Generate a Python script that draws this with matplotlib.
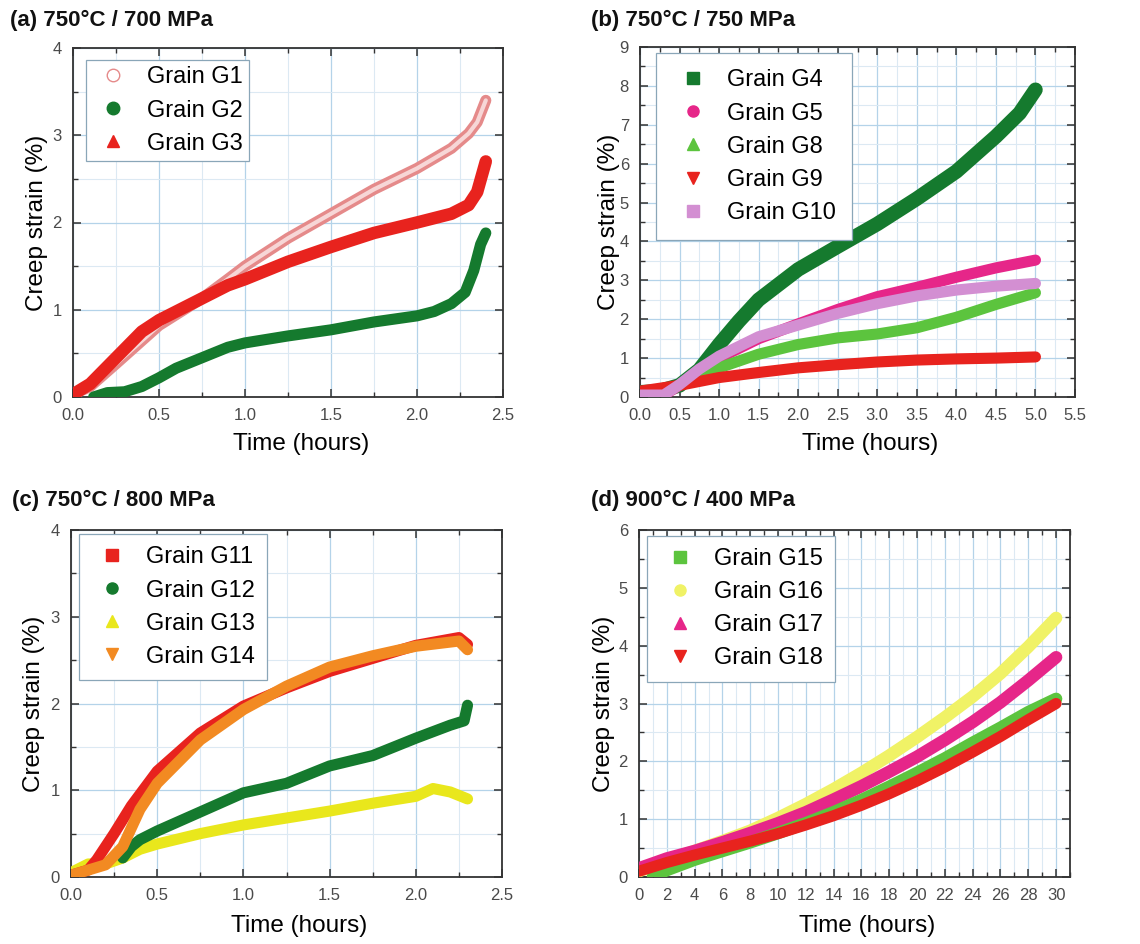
import matplotlib
matplotlib.use("Agg")
import matplotlib.pyplot as plt
from matplotlib.lines import Line2D
from matplotlib.ticker import MultipleLocator

plt.rcParams['font.family'] = ['Liberation Sans', 'DejaVu Sans']

# ---- (a) 750°C / 700 MPa ----
a_g1_t = [0, 0.1, 0.25, 0.5, 0.75, 0.9, 1.0, 1.25, 1.5, 1.75, 2.0, 2.2, 2.3, 2.35, 2.4]
a_g1_e = [0.03, 0.12, 0.38, 0.82, 1.13, 1.35, 1.50, 1.82, 2.10, 2.38, 2.62, 2.85, 3.02, 3.15, 3.40]
a_g2_t = [0.12, 0.2, 0.3, 0.4, 0.5, 0.6, 0.75, 0.9, 1.0, 1.25, 1.5, 1.75, 2.0, 2.1, 2.2, 2.28, 2.33, 2.37, 2.4]
a_g2_e = [0.0, 0.05, 0.06, 0.12, 0.22, 0.33, 0.45, 0.57, 0.62, 0.70, 0.77, 0.86, 0.93, 0.98, 1.07, 1.2, 1.45, 1.75, 1.88]
a_g3_t = [0, 0.1, 0.25, 0.4, 0.5, 0.75, 0.9, 1.0, 1.25, 1.5, 1.75, 2.0, 2.2, 2.3, 2.35, 2.4]
a_g3_e = [0.03, 0.15, 0.45, 0.75, 0.88, 1.13, 1.28, 1.35, 1.55, 1.72, 1.88, 2.0, 2.1, 2.2, 2.35, 2.7]

# ---- (b) 750°C / 750 MPa ----
b_g4_t = [0, 0.25, 0.5, 0.75, 1.0, 1.25, 1.5, 2.0, 2.5, 3.0, 3.5, 4.0, 4.5, 4.8, 5.0]
b_g4_e = [0.12, 0.15, 0.3, 0.7, 1.35, 1.95, 2.5, 3.28, 3.87, 4.45, 5.1, 5.8, 6.7, 7.3, 7.9]
b_g5_t = [0, 0.3, 0.5, 0.75, 1.0, 1.5, 2.0, 2.5, 3.0, 3.5, 4.0, 4.5, 5.0]
b_g5_e = [0.05, 0.05, 0.3, 0.7, 1.0, 1.5, 1.88, 2.25, 2.58, 2.82, 3.08, 3.32, 3.52]
b_g8_t = [0, 0.4, 0.75, 1.0, 1.5, 2.0, 2.5, 3.0, 3.5, 4.0, 4.5, 5.0]
b_g8_e = [0.05, 0.2, 0.6, 0.75, 1.1, 1.35, 1.52, 1.62, 1.78, 2.05, 2.38, 2.68]
b_g9_t = [0, 0.5, 1.0, 1.5, 2.0, 2.5, 3.0, 3.5, 4.0, 4.5, 5.0]
b_g9_e = [0.15, 0.3, 0.5, 0.63, 0.75, 0.83, 0.9, 0.95, 0.98, 1.0, 1.03]
b_g10_t = [0, 0.3, 0.5, 0.75, 1.0, 1.5, 2.0, 2.5, 3.0, 3.5, 4.0, 4.5, 5.0]
b_g10_e = [0.05, 0.05, 0.32, 0.72, 1.05, 1.55, 1.85, 2.15, 2.4, 2.6, 2.75, 2.85, 2.92]

# ---- (c) 750°C / 800 MPa ----
c_g11_t = [0, 0.1, 0.15, 0.25, 0.35, 0.5, 0.75, 1.0, 1.25, 1.5, 1.75, 2.0, 2.25, 2.3]
c_g11_e = [0.02, 0.08, 0.2, 0.5, 0.82, 1.22, 1.66, 1.97, 2.18, 2.37, 2.52, 2.67, 2.76, 2.68]
c_g12_t = [0.3, 0.35, 0.4, 0.5, 0.75, 1.0, 1.25, 1.5, 1.75, 2.0, 2.2, 2.28, 2.3]
c_g12_e = [0.22, 0.35, 0.43, 0.53, 0.75, 0.97, 1.08, 1.28, 1.40, 1.60, 1.75, 1.80, 1.98]
c_g13_t = [0, 0.1, 0.2, 0.3, 0.4, 0.5, 0.75, 1.0, 1.25, 1.5, 1.75, 2.0, 2.1, 2.2, 2.3]
c_g13_e = [0.05, 0.15, 0.15, 0.22, 0.32, 0.38, 0.5, 0.6, 0.68, 0.76, 0.85, 0.93, 1.02, 0.98, 0.9]
c_g14_t = [0, 0.1, 0.2, 0.3, 0.4, 0.5, 0.75, 1.0, 1.25, 1.5, 1.75, 2.0, 2.25, 2.3]
c_g14_e = [0.02, 0.08, 0.14, 0.35, 0.78, 1.08, 1.58, 1.93, 2.2, 2.42, 2.55, 2.66, 2.72, 2.62]

# ---- (d) 900°C / 400 MPa ----
d_t = [0, 2, 4, 6, 8, 10, 12, 14, 16, 18, 20, 22, 24, 26, 28, 30]
d_g15_t = [1, 2, 4, 6, 8, 10, 12, 14, 16, 18, 20, 22, 24, 26, 28, 30]
d_g15_e = [0.0, 0.12, 0.3, 0.45, 0.6, 0.76, 0.93, 1.12, 1.33, 1.56, 1.8, 2.05, 2.32, 2.58, 2.85, 3.08]
d_g16_e = [0.1, 0.28, 0.45, 0.62, 0.8, 1.02, 1.26, 1.52, 1.8, 2.1, 2.42, 2.76, 3.12, 3.52, 3.98, 4.48]
d_g17_e = [0.15, 0.32, 0.45, 0.6, 0.76, 0.93, 1.12, 1.34, 1.57, 1.82, 2.08, 2.37, 2.68, 3.02, 3.4, 3.8]
d_g18_e = [0.1, 0.25, 0.38, 0.5, 0.62, 0.75, 0.9, 1.06, 1.24, 1.44, 1.66, 1.9, 2.16, 2.43, 2.72, 3.0]

RED = '#e8231e'
DKGREEN = '#157a2e'
LTGREEN = '#5cc43e'
MAGENTA = '#e62689'
LILAC = '#d38fd2'
YELLOW_C = '#e9e71c'
YELLOW_D = '#f0f266'
ORANGE = '#f28a22'
PINK = '#e58a8a'
SPINE = '#333333'

fig = plt.figure(figsize=(11.4, 9.44), dpi=100)

pos = [
    [73 / 1140, (944 - 397) / 944, 430 / 1140, 349 / 944],
    [640 / 1140, (944 - 397) / 944, 435 / 1140, 350 / 944],
    [71 / 1140, (944 - 877) / 944, 431 / 1140, 347 / 944],
    [639 / 1140, (944 - 877) / 944, 431 / 1140, 347 / 944],
]
axes = [fig.add_axes(p) for p in pos]


def style(ax, xlim, ylim, xmaj, xmin, ymaj, ymin, ylab_x, xlab_y):
    ax.set_xlim(*xlim)
    ax.set_ylim(*ylim)
    ax.xaxis.set_major_locator(MultipleLocator(xmaj))
    ax.xaxis.set_minor_locator(MultipleLocator(xmin))
    ax.yaxis.set_major_locator(MultipleLocator(ymaj))
    ax.yaxis.set_minor_locator(MultipleLocator(ymin))
    ax.grid(True, which='major', color='#b4d3e9', lw=0.9, zorder=0)
    ax.grid(True, which='minor', color='#dce9f3', lw=0.8, zorder=0)
    ax.set_axisbelow(True)
    ax.tick_params(which='both', direction='in', top=True, right=True,
                   color=SPINE, labelcolor='#4a4a4a', labelsize=12, pad=8)
    ax.tick_params(which='major', length=6, width=1.1)
    ax.tick_params(which='minor', length=3.5, width=1.0)
    for s in ax.spines.values():
        s.set_color(SPINE)
        s.set_linewidth(1.3)
    ax.set_xlabel('Time (hours)', fontsize=17.5)
    ax.set_ylabel('Creep strain (%)', fontsize=17.5)
    ax.yaxis.set_label_coords(ylab_x, 0.5)
    ax.xaxis.set_label_coords(0.53, xlab_y)


def band(ax, t, e, color, lw, z):
    ax.plot(t, e, color=color, lw=lw, solid_capstyle='round',
            solid_joinstyle='round', zorder=z)


def legend(ax, entries, anchor, bpad):
    handles = []
    for lab, mk, col, ms, face in entries:
        handles.append(Line2D([], [], ls='none', marker=mk, color=col, ms=ms,
                              markerfacecolor=face, markeredgecolor=col,
                              label=lab))
    leg = ax.legend(handles=handles, loc='upper left', bbox_to_anchor=anchor,
                    fontsize=17, frameon=True, fancybox=False, framealpha=1,
                    edgecolor='#8aa6b8', handlelength=1.7, handletextpad=0.6,
                    labelspacing=0.47, borderpad=bpad, borderaxespad=0)
    leg.get_frame().set_linewidth(0.9)
    leg.set_zorder(10)


# (a)
ax = axes[0]
style(ax, (0, 2.5), (0, 4), 0.5, 0.25, 1, 0.5, -0.058, -0.103)
band(ax, a_g1_t, a_g1_e, PINK, 8, 3)
ax.plot(a_g1_t, a_g1_e, color='#f7d6d6', lw=3, solid_capstyle='round', zorder=3)
band(ax, a_g2_t, a_g2_e, DKGREEN, 8, 4)
band(ax, a_g3_t, a_g3_e, RED, 9, 5)
legend(ax, [('Grain G1', 'o', PINK, 9, 'white'),
            ('Grain G2', 'o', DKGREEN, 9, DKGREEN),
            ('Grain G3', '^', RED, 9, RED)], (0.03, 0.966), 0.28)

# (b)
ax = axes[1]
style(ax, (0, 5.5), (0, 9), 0.5, 0.25, 1, 0.5, -0.046, -0.103)
band(ax, b_g4_t, b_g4_e, DKGREEN, 10.5, 3)
band(ax, b_g5_t, b_g5_e, MAGENTA, 8, 4)
band(ax, b_g8_t, b_g8_e, LTGREEN, 8, 5)
band(ax, b_g9_t, b_g9_e, RED, 8, 6)
band(ax, b_g10_t, b_g10_e, LILAC, 8, 7)
legend(ax, [('Grain G4', 's', DKGREEN, 8, DKGREEN),
            ('Grain G5', 'o', MAGENTA, 8, MAGENTA),
            ('Grain G8', '^', LTGREEN, 9, LTGREEN),
            ('Grain G9', 'v', RED, 9, RED),
            ('Grain G10', 's', LILAC, 8, LILAC)], (0.037, 0.983), 0.7)

# (c)
ax = axes[2]
style(ax, (0, 2.5), (0, 4), 0.5, 0.25, 1, 0.5, -0.06, -0.11)
band(ax, c_g13_t, c_g13_e, YELLOW_C, 8, 3)
band(ax, c_g12_t, c_g12_e, DKGREEN, 8, 4)
band(ax, c_g11_t, c_g11_e, RED, 8, 5)
band(ax, c_g14_t, c_g14_e, ORANGE, 8, 6)
legend(ax, [('Grain G11', 's', RED, 8, RED),
            ('Grain G12', 'o', DKGREEN, 8, DKGREEN),
            ('Grain G13', '^', YELLOW_C, 8, YELLOW_C),
            ('Grain G14', 'v', ORANGE, 8, ORANGE)], (0.019, 0.988), 0.52)

# (d)
ax = axes[3]
style(ax, (0, 31), (0, 6), 2, 1, 1, 0.5, -0.056, -0.11)
band(ax, d_t, d_g16_e, YELLOW_D, 9, 3)
band(ax, d_t, d_g17_e, MAGENTA, 9, 4)
band(ax, d_g15_t, d_g15_e, LTGREEN, 9, 5)
band(ax, d_t, d_g18_e, RED, 8, 6)
legend(ax, [('Grain G15', 's', LTGREEN, 8, LTGREEN),
            ('Grain G16', 'o', YELLOW_D, 8, YELLOW_D),
            ('Grain G17', '^', MAGENTA, 8, MAGENTA),
            ('Grain G18', 'v', RED, 8, RED)], (0.019, 0.983), 0.52)

titles = ['(a) 750°C / 700 MPa', '(b) 750°C / 750 MPa',
          '(c) 750°C / 800 MPa', '(d) 900°C / 400 MPa']
tpos = [(10, 20), (591, 20), (12, 500), (591, 500)]
for txt, (px, py) in zip(titles, tpos):
    fig.text(px / 1140, 1 - py / 944, txt, fontsize=16, fontweight='bold',
             ha='left', va='center', color='#111111')

fig.savefig('out.png', dpi=100)
